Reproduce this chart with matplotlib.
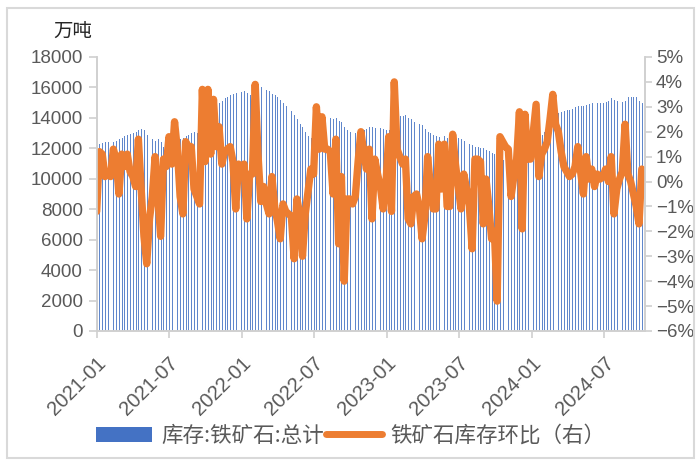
import pandas as pd
import matplotlib
matplotlib.use('Agg')
import matplotlib.pyplot as plt
import matplotlib.dates as mdates
from matplotlib.ticker import FuncFormatter, MultipleLocator
from matplotlib.patches import Rectangle, Patch
from matplotlib.lines import Line2D

plt.rcParams['font.family'] = ['Liberation Sans', 'Noto Sans CJK SC']

# 库存:铁矿石:总计 (万吨), weekly from 2021-01-01
stock = [
    12200, 12300, 12350, 12400, 12400, 12450, 12400, 12500, 12600, 12700,
    12800, 12900, 12950, 13000, 13100, 13200, 13300, 13200, 12900, 12700,
    12600, 12500, 12600, 12400, 12100, 11900, 12200, 12400, 12600, 12800,
    12600, 12700, 12800, 12900, 13000, 13100, 13000, 12900, 13300, 13600,
    13900, 14300, 14600, 14900, 15000, 15100, 15300, 15400, 15500, 15600,
    15650, 15600, 15700, 15750, 15650, 15500, 15800, 16050, 16100, 16000,
    15950, 15850, 15750, 15600, 15500, 15350, 15200, 15000, 14800, 14600,
    14450, 14200, 13900, 13600, 13400, 13100, 12800, 12700, 12700, 12900,
    13300, 13700, 13900, 14000, 14000, 13950, 14000, 13800, 13700, 13400,
    13200, 13100, 13000, 13000, 12900, 13000, 13200, 13300, 13400, 13400,
    13350, 13400, 13350, 13300, 13200, 13200, 13300, 13600, 13900, 14100,
    14100, 14200, 14000, 13900, 13750, 13700, 13600, 13500, 13300, 13100,
    13000, 12900, 12800, 12750, 12750, 12800, 12700, 12700, 12750, 12700,
    12650, 12600, 12500, 12450, 12300, 12200, 12100, 12100, 12000, 12000,
    11900, 11800, 11700, 11600, 11400, 11300, 11200, 11300, 11400, 11600,
    11800, 12000, 12200, 12300, 12400, 12500, 12600, 12700, 12800, 12800,
    12900, 13100, 13400, 13800, 14100, 14200, 14300, 14400, 14450, 14500,
    14500, 14600, 14700, 14750, 14800, 14750, 14850, 14900, 14950, 14950,
    15000, 14950, 15000, 15050, 15100, 15300, 15200, 15100, 15100, 15050,
    15100, 15350, 15400, 15400, 15350, 15100, 15000,
]

# 铁矿石库存环比 (%)
mom = [
    -1.2, 1.2, 1.1, 0.2, 0.3, 0.2, 1.3, 0.9, -0.5, 1.1,
    0.6, 1.1, 0.4, 0.2, -0.2, 1.7, -0.3, -2.2, -3.3, -1.5,
    -0.6, 1.0, -0.6, -2.2, 0.9, 0.6, 1.8, 0.7, 2.4, 1.3,
    -0.6, -1.3, 1.6, 1.4, 1.4, -0.3, -0.6, -0.9, 3.7, 0.8,
    3.7, 1.1, 3.3, 1.4, 2.2, 0.7, 1.2, 1.3, 1.4, 0.8,
    -1.1, 0.7, 0.4, 0.7, -1.5, 0.3, 0.3, 3.9, 1.1, -0.8,
    -0.2, -0.9, -1.3, 0.2, -1.0, -1.6, -2.3, -0.9, -1.2, -1.3,
    -1.4, -3.1, -0.7, -1.3, -3.0, -1.3, -0.4, 0.5, 0.3, 3.0,
    1.3, 2.6, 1.3, 1.3, 1.2, -0.5, 1.7, -2.5, 0.2, -4.0,
    -0.7, -0.7, -0.9, -0.6, 0.8, 2.0, 1.2, 0.5, 1.3, -1.5,
    0.9, 0.3, -0.2, -1.1, -0.1, 1.8, -1.2, 4.0, 1.3, 1.0,
    0.7, 0.9, -1.5, -1.7, -0.6, -0.5, -1.0, -2.3, -1.4, 1.0,
    -0.2, -1.1, -1.1, 1.5, -0.3, 1.5, -1.0, -1.0, 1.9, 0.7,
    -0.2, -1.1, 0.3, -0.3, -1.0, -2.7, 0.9, 0.9, 0.8, -1.7,
    0.1, -1.0, -2.3, -2.0, -4.8, 1.8, 1.6, 1.4, 1.3, -0.6,
    0.2, 0.9, 2.8, -1.9, 2.7, 0.9, 0.9, 2.0, 3.1, 0.2,
    1.1, 1.3, 1.6, 2.5, 3.5, 2.3, 2.0, 1.2, 0.6, 0.4,
    0.2, 0.3, 0.6, 1.4, 0.4, -0.5, 1.0, 0.1, 0.5, -0.2,
    0.3, 0.1, 0.2, 0.5, 0.0, 1.0, -1.3, -0.3, 0.1, 0.4,
    2.3, 0.3, 0.0, -0.5, -1.0, -1.7, 0.5,
]

dates = pd.date_range('2021-01-01', periods=len(stock), freq='7D')

bar_color = '#4472C4'
line_color = '#ED7D31'
axis_grey = '#d0d0d0'
text_grey = '#595959'

fig = plt.figure(figsize=(6.99, 4.61), dpi=100)
fig.patches.append(Rectangle((0.010, 0.007), 0.983, 0.976, transform=fig.transFigure,
                             fill=False, edgecolor='#d9d9d9', linewidth=1.5))

ax = fig.add_axes([0.1383, 0.282, 0.7844, 0.5944])
ax.bar(dates, stock, width=2.3, align='edge', color=bar_color, linewidth=0, alpha=0.85)
ax.set_ylim(0, 18000)
ax.yaxis.set_major_locator(MultipleLocator(2000))
ax.set_xlim(pd.Timestamp('2021-01-01'), pd.Timestamp('2024-10-12'))
ax.xaxis.set_major_locator(mdates.MonthLocator(bymonth=[1, 7]))
ax.xaxis.set_major_formatter(mdates.DateFormatter('%Y-%m'))

ax2 = ax.twinx()
ax2.plot(dates, mom, color=line_color, linewidth=5.3, solid_joinstyle='round',
         solid_capstyle='round')
ax2.set_ylim(-6, 5)
ax2.yaxis.set_major_locator(MultipleLocator(1))
ax2.yaxis.set_major_formatter(FuncFormatter(lambda v, p: f'{v:.0f}%'.replace('-', '\u2212')))

for a in (ax, ax2):
    a.spines['top'].set_visible(False)
    for s in ('left', 'right', 'bottom'):
        a.spines[s].set_color(axis_grey)
        a.spines[s].set_linewidth(1.2)

ax.tick_params(axis='y', length=6, width=1.2, color=axis_grey, labelcolor=text_grey,
               labelsize=13.5, pad=4)
ax.tick_params(axis='x', length=5, width=1.2, color=axis_grey, labelcolor=text_grey,
               labelsize=14.5, pad=11)
ax2.tick_params(axis='y', length=5, width=1.2, color=axis_grey, labelcolor=text_grey,
                labelsize=13.5, pad=3)
for lbl in ax.get_xticklabels():
    lbl.set_rotation(45)
    lbl.set_ha('right')
    lbl.set_rotation_mode('anchor')

fig.text(0.076, 0.932, '万吨', fontsize=14, color='#262626', family=['Noto Sans CJK SC'],
         ha='left', va='center')

handles = [Patch(facecolor=bar_color, edgecolor='none'),
           Line2D([], [], color=line_color, linewidth=5, solid_capstyle='round')]
labels = ['库存:铁矿石:总计', '铁矿石库存环比（右）']
fig.legend(handles, labels, loc='center', bbox_to_anchor=(0.502, 0.054), ncol=2,
           frameon=False, handlelength=2.6, handleheight=0.75, handletextpad=0.4,
           columnspacing=0.1, prop={'family': ['Noto Sans CJK SC'], 'size': 15.5},
           labelcolor=text_grey)

fig.savefig('out.png', dpi=100)
